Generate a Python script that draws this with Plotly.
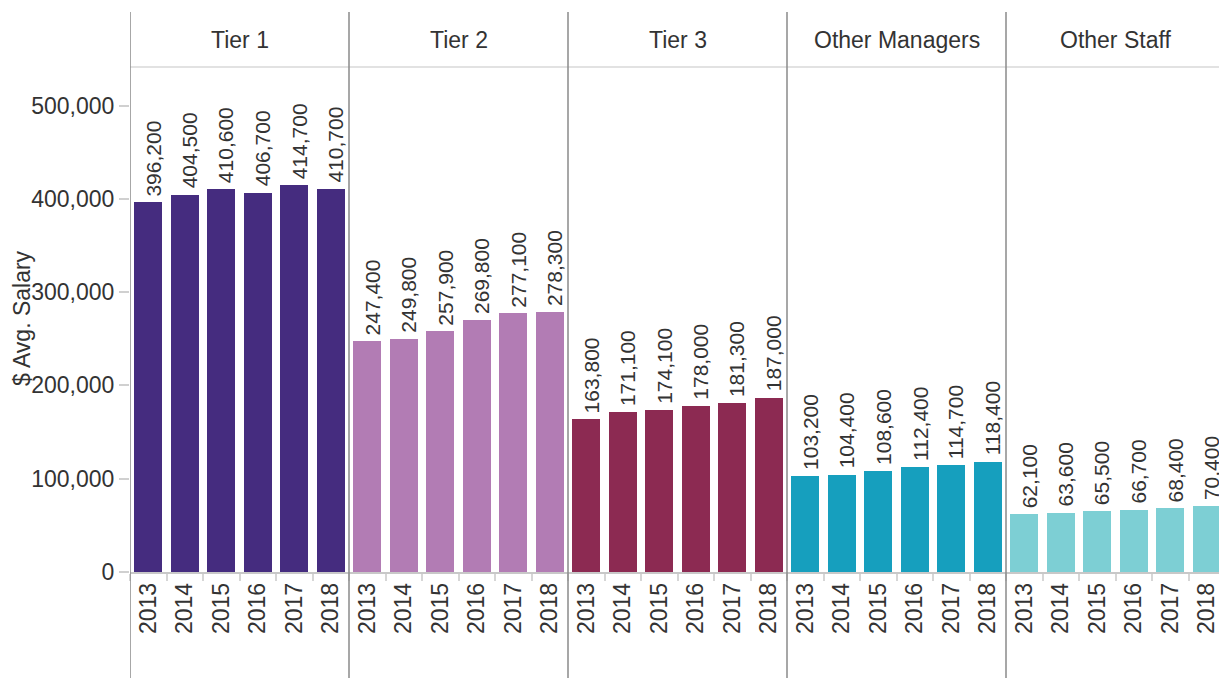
import plotly.graph_objects as go

# ---- data ----
groups = ["Tier 1", "Tier 2", "Tier 3", "Other Managers", "Other Staff"]
years = ["2013", "2014", "2015", "2016", "2017", "2018"]
tier1 = [396200, 404500, 410600, 406700, 414700, 410700]
tier2 = [247400, 249800, 257900, 269800, 277100, 278300]
tier3 = [163800, 171100, 174100, 178000, 181300, 187000]
other_managers = [103200, 104400, 108600, 112400, 114700, 118400]
other_staff = [62100, 63600, 65500, 66700, 68400, 70400]
series = [tier1, tier2, tier3, other_managers, other_staff]
colors = ["#452c7f", "#b27cb4", "#8c2a52", "#169fbe", "#7dcfd4"]
y_ticks = [0, 100000, 200000, 300000, 400000, 500000]

FONT = "Arial, Liberation Sans, sans-serif"
TXT = "#333333"

W, H = 1219, 678
ML, MT = 130, 67
MB = H - 572
plot_h = H - MT - MB
plot_w = W - ML
n = len(years)
unit = 36.5  # px per category slot

fig = go.Figure()
tickvals, ticktext = [], []
for g, (name, vals, col) in enumerate(zip(groups, series, colors)):
    xs = [g * n + i for i in range(n)]
    tickvals += xs
    ticktext += years
    fig.add_trace(go.Bar(
        x=xs, y=vals, name=name, marker=dict(color=col, line=dict(width=0)),
        width=0.76, cliponaxis=True, showlegend=False,
    ))
    # value labels above the bars
    for x, v in zip(xs, vals):
        fig.add_annotation(
            x=x, y=v, xref="x", yref="y", text=f"{v:,}", textangle=-90,
            xanchor="center", yanchor="bottom", xshift=5, yshift=4,
            showarrow=False, font=dict(family=FONT, size=21, color=TXT),
        )

x_max = -0.5 + plot_w / unit
y_max = plot_h / 93.3 * 100000

fig.update_layout(
    width=W, height=H,
    margin=dict(l=ML, r=0, t=MT, b=MB, pad=0),
    paper_bgcolor="white", plot_bgcolor="white",
    font=dict(family=FONT, color=TXT),
    bargap=0,
    xaxis=dict(
        range=[-0.5, x_max], tickmode="array", tickvals=tickvals, ticktext=ticktext,
        tickangle=-90, tickfont=dict(family=FONT, size=23, color=TXT),
        ticks="", showgrid=False, zeroline=False,
        showline=True, linecolor="#c8c8c8", linewidth=1.5,
        ticklabelstandoff=0, ticklabeloverflow="allow",
        minor=dict(ticks="outside", ticklen=7, tickcolor="#d6d6d6", tickwidth=1.5,
                   tickmode="linear", tick0=0.5, dtick=1, showgrid=False),
        fixedrange=True,
    ),
    yaxis=dict(
        range=[0, y_max], tickmode="array", tickvals=y_ticks,
        ticktext=[f"{v:,}" for v in y_ticks],
        tickfont=dict(family=FONT, size=23, color=TXT),
        ticks="outside", ticklen=10, tickcolor="#d0d0d0", tickwidth=1.5,
        ticklabelstandoff=0,
        showgrid=False, zeroline=False, showline=False,
        fixedrange=True,
    ),
)

# y-axis title (overlapping the tick labels, as in the reference)
fig.add_annotation(
    text="$ Avg. Salary", textangle=-90, xref="paper", yref="paper",
    x=(22 - ML) / plot_w, y=(572 - 318) / plot_h, xanchor="center", yanchor="middle",
    showarrow=False, font=dict(family=FONT, size=23, color=TXT),
)

# header row line
fig.add_shape(type="line", xref="paper", yref="paper", x0=0, x1=1, y0=1, y1=1,
              line=dict(color="#d9d9d9", width=1.5))

# panel separators and headers
y_top = (572 - 12) / plot_h
y_bot = -(678 - 572) / plot_h
for g, name in enumerate(groups):
    xb = g * n - 0.5
    fig.add_shape(type="line", xref="x", yref="paper", x0=xb, x1=xb, y0=y_bot, y1=y_top,
                  line=dict(color="#8a8a8a", width=1.5))
    fig.add_annotation(
        text=name, xref="x", yref="paper", x=g * n + (n - 1) / 2,
        y=(572 - 40) / plot_h, xanchor="center", yanchor="middle",
        showarrow=False, font=dict(family=FONT, size=23, color=TXT),
    )

fig.write_html(
    "out.html",
    config={"displayModeBar": False},
    post_script="document.body.style.margin='0';document.body.style.overflow='hidden';",
)
